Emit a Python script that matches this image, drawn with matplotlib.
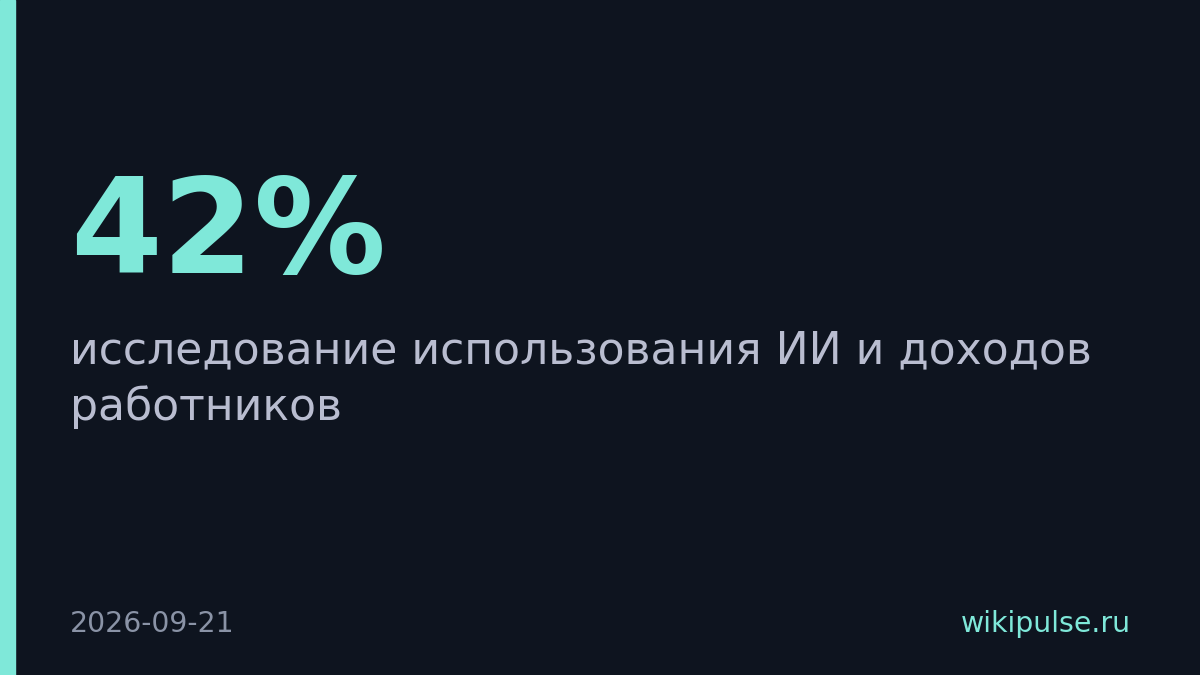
import matplotlib.pyplot as plt
from matplotlib.patches import Rectangle

# card content
value = "42%"
subtitle_lines = ["исследование использования ИИ и доходов", "работников"]
date_label = "2026-09-21"
site_label = "wikipulse.ru"

bg = "#0e141f"
accent = "#7fe8d9"

W, H = 1200, 675
fig = plt.figure(figsize=(12, 6.75), dpi=100, facecolor=bg)

# pixel coordinates, origin bottom-left
def px(x, y):
    return x / W, y / H

fig.patches.append(Rectangle((0, 0), 15 / W, 1, transform=fig.transFigure,
                             color=accent, zorder=1))

fig.text(*px(70, 402), value, color=accent, fontsize=95, fontweight="bold",
         family="DejaVu Sans", va="baseline", ha="left")

for i, line in enumerate(subtitle_lines):
    fig.text(*px(70, 312 - 57 * i), line, color="#b9bdd0", fontsize=31.8,
             family="DejaVu Sans", va="baseline", ha="left")

fig.text(*px(70, 43), date_label, color="#8a93a6", fontsize=20.3,
         family="DejaVu Sans", va="baseline", ha="left")
fig.text(*px(1130.5, 43), site_label, color=accent, fontsize=20.4,
         family="DejaVu Sans", va="baseline", ha="right")

fig.savefig("out.png", dpi=100, facecolor=bg)
